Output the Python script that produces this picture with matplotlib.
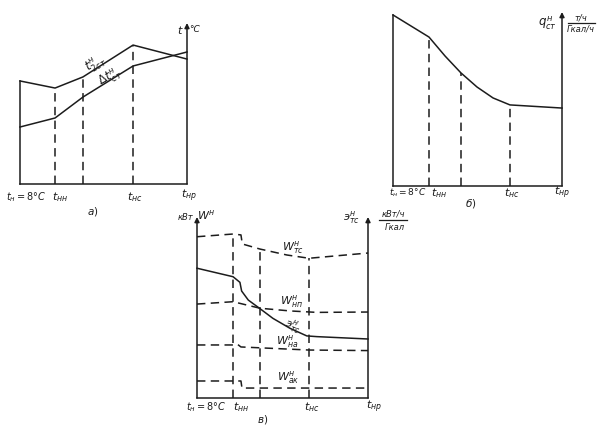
import numpy as np
import matplotlib
matplotlib.use("Agg")
import matplotlib.pyplot as plt

plt.rcParams['font.family'] = ['DejaVu Sans']
plt.rcParams['mathtext.fontset'] = 'dejavusans'

INK = '#1c1c1c'
DASH = (0, (5.5, 3.5))

# panel a: temperatures (x in % of the t_н .. t_нр span, y in % of axis height)
a_x = [0, 21, 37.7, 67.7, 100]
a_t2st = [64, 59.6, 66.5, 86.3, 77.6]
a_dtst = [35.4, 41, 54, 73.3, 82]
a_marks = [21, 37.7, 67.7]

# panel b: specific steam flow
b_x = [0, 21.3, 30.8, 40.2, 49.7, 59.2, 69.2, 100]
b_q = [98.3, 85.6, 74.7, 65, 56.9, 50.6, 46.6, 44.8]
b_marks = [21.3, 40.2, 69.2]

# panel c: power and specific energy
c_wtc_x = [0, 21.1, 25.7, 26.5, 36.8, 52.6, 65.5, 100]
c_wtc = [89.1, 90.6, 90.1, 85.1, 82.3, 79.0, 77.2, 80.1]
c_e_x = [0, 21.1, 25.1, 26.1, 30, 36.5, 44.4, 54.4, 64.2, 70.2, 100]
c_e = [71.7, 67, 63.9, 59.1, 54.1, 49.6, 44, 38.5, 34.3, 33.9, 32.6]
c_wnp_x = [0, 21.1, 36.8, 54.4, 70.2, 100]
c_wnp = [51.9, 53.2, 49.6, 48.1, 47.3, 47.5]
c_wna_x = [0, 21.1, 23.5, 25.7, 65.5, 100]
c_wna = [29.3, 29.3, 29.8, 28.2, 26.5, 26.2]
c_wak_x = [0, 25.7, 26.3, 100]
c_wak = [9.4, 9.4, 5.5, 5.5]
c_marks = [21.1, 36.8, 65.5]

W, H = 606, 433
fig = plt.figure(figsize=(W / 100, H / 100), dpi=100)
fig.patch.set_facecolor('white')

ov = fig.add_axes([0, 0, 1, 1])
ov.set_xlim(0, W)
ov.set_ylim(H, 0)
ov.axis('off')


def panel(x0, x1, ybot, ytop):
    ax = fig.add_axes([x0 / W, (H - ybot) / H, (x1 - x0) / W, (ybot - ytop) / H])
    ax.set_xlim(0, 100)
    ax.set_ylim(0, 100)
    ax.axis('off')
    ax.patch.set_alpha(0)
    return ax


def arrow(ax, x):
    ax.annotate('', xy=(x, 100), xytext=(x, 0),
                arrowprops=dict(arrowstyle='-|>', color=INK, lw=1.1,
                                mutation_scale=7, shrinkA=0, shrinkB=0))


def line(ax, x, y, dashed=False):
    ax.plot(x, y, color=INK, lw=1.1, ls=DASH if dashed else '-',
            solid_joinstyle='round', clip_on=False)


def txt(x, y, s, size=8, ha='center', **kw):
    ov.text(x, y, s, fontsize=size, color=INK, ha=ha, va='center', **kw)


# ---- panel a
ax = panel(20, 187, 184, 23)
line(ax, [0, 100], [0, 0])
line(ax, [0, 0], [0, a_t2st[0]])
arrow(ax, 100)
line(ax, a_x, a_t2st)
line(ax, a_x, a_dtst)
for m in a_marks:
    line(ax, [m, m], [0, np.interp(m, a_x, a_t2st)], dashed=True)

txt(180, 30, r'$t$', 8)
txt(195, 30, '°C', 6.5, style='italic')
txt(96, 64, r'$t^{н}_{2ст}$', 8.5, rotation=30)
txt(110, 77, r'$\Delta t^{н}_{ст}$', 8.5, rotation=30)
txt(6, 197, r'$t_{н}=8°C$', 7, ha='left')
txt(60, 197, r'$t_{нн}$', 8)
txt(135, 197, r'$t_{нс}$', 8)
txt(189, 196, r'$t_{нр}$', 8)
txt(93, 211, r'$а)$', 7.5)

# ---- panel b
ax = panel(393, 562, 186, 12)
line(ax, [0, 100], [0, 0])
line(ax, [0, 0], [0, b_q[0]])
arrow(ax, 100)
line(ax, b_x, b_q)
for m in b_marks:
    line(ax, [m, m], [0, np.interp(m, b_x, b_q)], dashed=True)

txt(547, 23, r'$q^{н}_{ст}$', 8.5)
txt(581, 18, 'т/ч', 6, style='italic')
ov.plot([568, 595], [23, 23], color=INK, lw=0.9)
txt(581, 29, 'Гкал/ч', 6, style='italic')
txt(389, 193, r'$t_{н}=8°C$', 6.5, ha='left')
txt(439, 193, r'$t_{нн}$', 8)
txt(512, 193, r'$t_{нс}$', 8)
txt(562, 193, r'$t_{нр}$', 8)
txt(471, 203, r'$б)$', 7.5)

# ---- panel c
ax = panel(197, 368, 398, 217)
line(ax, [0, 100], [0, 0])
arrow(ax, 0)
arrow(ax, 100)
line(ax, c_wtc_x, c_wtc, dashed=True)
line(ax, c_e_x, c_e)
line(ax, c_wnp_x, c_wnp, dashed=True)
line(ax, c_wna_x, c_wna, dashed=True)
line(ax, c_wak_x, c_wak, dashed=True)
for m in c_marks:
    line(ax, [m, m], [0, np.interp(m, c_wtc_x, c_wtc)], dashed=True)

txt(186, 218, 'кВт', 6, style='italic')
txt(206, 215, r'$W^{н}$', 8)
txt(351, 218, r'$э^{н}_{тс}$', 8)
txt(393, 214, 'кВт/ч', 6, style='italic')
ov.plot([379, 407], [220, 220], color=INK, lw=0.9)
txt(395, 227, 'Гкал', 6, style='italic')
txt(293, 247, r'$W^{н}_{тс}$', 8)
txt(291, 302, r'$W^{н}_{нп}$', 8)
txt(293, 326, r'$э^{н}_{тс}$', 8, rotation=-20)
txt(287, 341, r'$W^{н}_{на}$', 8)
txt(288, 377, r'$W^{н}_{ак}$', 8)
txt(186, 407, r'$t_{н}=8°C$', 7, ha='left')
txt(241, 407, r'$t_{нн}$', 8)
txt(312, 407, r'$t_{нс}$', 8)
txt(374, 407, r'$t_{нр}$', 8)
txt(263, 420, r'$в)$', 7.5)

fig.savefig('out.png', dpi=100, facecolor='white')
